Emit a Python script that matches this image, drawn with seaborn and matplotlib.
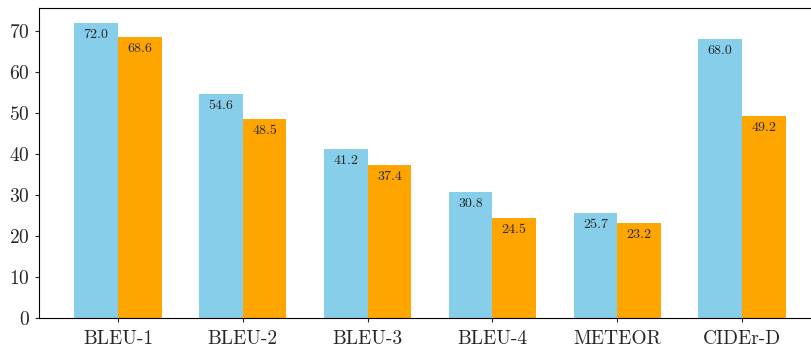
import matplotlib
matplotlib.use("Agg")
import matplotlib.pyplot as plt
from matplotlib.ticker import MultipleLocator
import seaborn as sns
import pandas as pd

# scores per metric
metrics = ["BLEU-1", "BLEU-2", "BLEU-3", "BLEU-4", "METEOR", "CIDEr-D"]
model_a = [72.0, 54.6, 41.2, 30.8, 25.7, 68.0]
model_b = [68.6, 48.5, 37.4, 24.5, 23.2, 49.2]

df = pd.DataFrame({
    "metric": metrics * 2,
    "score": model_a + model_b,
    "model": ["A"] * len(metrics) + ["B"] * len(metrics),
})

sns.set_style("white")
plt.rcParams["font.family"] = "cmr10"
plt.rcParams["axes.formatter.use_mathtext"] = True
plt.rcParams["axes.unicode_minus"] = False

fig = plt.figure(figsize=(8.11, 3.5), dpi=100)
ax = fig.add_axes([39 / 811, 32 / 350, 782 / 811, 310 / 350])

sns.barplot(data=df, x="metric", y="score", hue="model",
            palette=["skyblue", "orange"], width=0.7, gap=0,
            saturation=1, linewidth=0, legend=False, ax=ax)

# value labels just inside the top of each bar
for c in ax.containers:
    ax.bar_label(c, fmt="%.1f", padding=-13, fontsize=10)

ax.set_xlim(-0.633, 5.633)
ax.yaxis.set_major_locator(MultipleLocator(10))
ax.set_xlabel("")
ax.set_ylabel("")
ax.tick_params(axis="both", labelsize=14)
ax.tick_params(axis="x", bottom=True, length=3, pad=6)
ax.tick_params(axis="y", left=True, length=3)
for s in ax.spines.values():
    s.set_color("black")

fig.savefig("out.png", dpi=100)
